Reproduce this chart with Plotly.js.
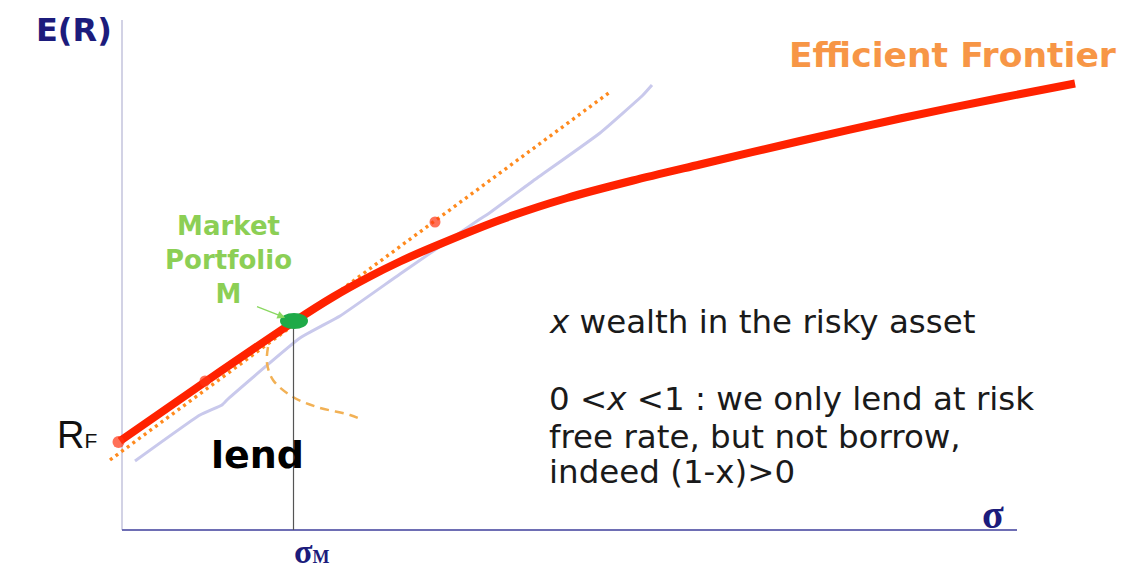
<!DOCTYPE html>
<html>
<head>
<meta charset="utf-8">
<script src="https://cdn.plot.ly/plotly-3.0.1.min.js"></script>
<style>html,body{margin:0;padding:0;background:#fff;}#chart{width:1130px;height:572px;}</style>
</head>
<body>
<div id="chart"></div>
<script>
// ---- data (σ, E(R)) in arbitrary units ----
const frontierSigma = [-0.2, 8.3, 17.3, 21.1, 24.5, 27.8, 31.1, 37.8, 44.5, 51.1, 57.8, 67.8, 77.8, 87.8, 95.3];
const frontierER    = [8.9, 14.8, 20.9, 23.3, 25.2, 26.85, 28.3, 31.0, 33.2, 34.95, 36.55, 38.9, 41.15, 43.2, 44.65];

const cmlSigma = [-1.2, 48.8];
const cmlER    = [7.0, 43.8];

const shadowSigma = [1.3, 7.8, 10.0, 10.6, 17.8, 21.8, 27.8, 35.8, 36.6, 41.1, 47.8, 52.1, 53.0];
const shadowER    = [6.9, 11.5, 12.5, 13.1, 19.2, 21.4, 25.6, 31.1, 31.6, 34.9, 39.7, 43.5, 44.5];

const hyperSigma = [14.6, 14.5, 15.1, 17.1, 19.5, 22.8, 24.1];
const hyperER    = [18.3, 16.7, 15.0, 13.3, 12.3, 11.5, 11.0];

const pointSigma = [-0.35, 8.3, 31.3];
const pointER    = [8.8, 14.9, 30.8];

const sigmaM = 17.15;
const erM = 20.9;

const xAxisEnd = 89.5;
const yAxisEnd = 51;

const rightLines = [
  "<i>x</i> wealth in the risky asset",
  "0 &lt;<i>x</i> &lt;1 : we only lend at risk",
  "free rate, but not borrow,",
  "indeed (1-x)&gt;0"
];
const rightLineER = [20.8, 13.1, 9.3, 5.8];

// ---- traces ----
const traces = [
  {x: shadowSigma, y: shadowER, mode: 'lines', line: {color: '#c9c9ec', width: 3, shape: 'spline', smoothing: 0.4}, hoverinfo: 'skip'},
  {x: hyperSigma, y: hyperER, mode: 'lines', line: {color: '#f2b155', width: 2.5, dash: '9px,6px', shape: 'spline'}, hoverinfo: 'skip'},
  {x: [sigmaM, sigmaM], y: [0, erM], mode: 'lines', line: {color: '#555555', width: 1.2}, hoverinfo: 'skip'},
  {x: cmlSigma, y: cmlER, mode: 'lines', line: {color: '#ff8a1e', width: 3.4, dash: '3px,4px'}, hoverinfo: 'skip'},
  {x: frontierSigma, y: frontierER, mode: 'lines', line: {color: '#ff2200', width: 8, shape: 'spline', smoothing: 0.8}, hoverinfo: 'skip'},
  {x: pointSigma, y: pointER, mode: 'markers', marker: {color: '#ff3311', size: [12, 11, 11], line: {width: 0}}, cliponaxis: false, hoverinfo: 'skip'}
];

const ann = [
  {x: -4.85, y: 50.0, text: 'E(R)', font: {family: 'DejaVu Sans', size: 32, color: '#1c1c7c', weight: 'bold'}},
  {x: -4.5, y: 9.5, text: "R<span style='font-size:21px'>F</span>", font: {family: 'Liberation Sans', size: 38, color: '#111111'}},
  {x: 87.1, y: 1.6, text: 'σ', font: {family: 'Liberation Serif', size: 40, color: '#1c1c7c', weight: 'bold'}},
  {x: 18.95, y: -2.1, text: "σ<span style='font-size:18px'>M</span>", font: {family: 'Liberation Serif', size: 34, color: '#1c1c7c', weight: 'bold'}},
  {x: 83.05, y: 47.5, text: 'Efficient Frontier', font: {family: 'DejaVu Sans', size: 34.6, color: '#f79646', weight: 'bold'}},
  {x: 13.5, y: 7.5, text: 'lend', font: {family: 'DejaVu Sans', size: 38, color: '#000000', weight: 'bold'}},
  {x: 10.6, y: 27.0, text: 'Market<br>Portfolio<br>M', font: {family: 'DejaVu Sans', size: 26, color: '#8ccf55', weight: 'bold'}},
  {x: sigmaM, y: erM, text: '', showarrow: true, ax: -38, ay: -15, arrowcolor: '#8ad860', arrowwidth: 1.3, arrowhead: 2, arrowsize: 1.2, standoff: 9}
].map(a => Object.assign({xref: 'x', yref: 'y', showarrow: false, xanchor: 'center', yanchor: 'middle'}, a));

rightLines.forEach((t, i) => {
  ann.push({xref: 'x', yref: 'y', x: 42.5, y: rightLineER[i], text: t, showarrow: false, xanchor: 'left', yanchor: 'middle',
            font: {family: 'DejaVu Sans', size: 32.5, color: '#1a1a1a'}});
});

const shapes = [
  {type: 'line', xref: 'x', yref: 'y', x0: 0, y0: 0, x1: 0, y1: yAxisEnd, line: {color: '#c3c3dc', width: 1.5}, layer: 'below'},
  {type: 'line', xref: 'x', yref: 'y', x0: 0, y0: 0, x1: xAxisEnd, y1: 0, line: {color: '#6e6eb4', width: 2}, layer: 'below'},
  {type: 'circle', xref: 'x', yref: 'y', xsizemode: 'pixel', ysizemode: 'pixel', xanchor: sigmaM + 0.05, yanchor: erM,
   x0: -14, x1: 14, y0: -8, y1: 8, fillcolor: '#1eaa48', line: {width: 0}, layer: 'above'}
];

const layout = {
  width: 1130, height: 572,
  margin: {l: 0, r: 0, t: 0, b: 0, pad: 0},
  paper_bgcolor: '#ffffff', plot_bgcolor: '#ffffff',
  showlegend: false,
  xaxis: {range: [-12.2, 100.8], visible: false, fixedrange: true},
  yaxis: {range: [-4.2, 53], visible: false, fixedrange: true},
  annotations: ann,
  shapes: shapes
};

Plotly.newPlot('chart', traces, layout, {displayModeBar: false, staticPlot: true});
</script>
</body>
</html>
